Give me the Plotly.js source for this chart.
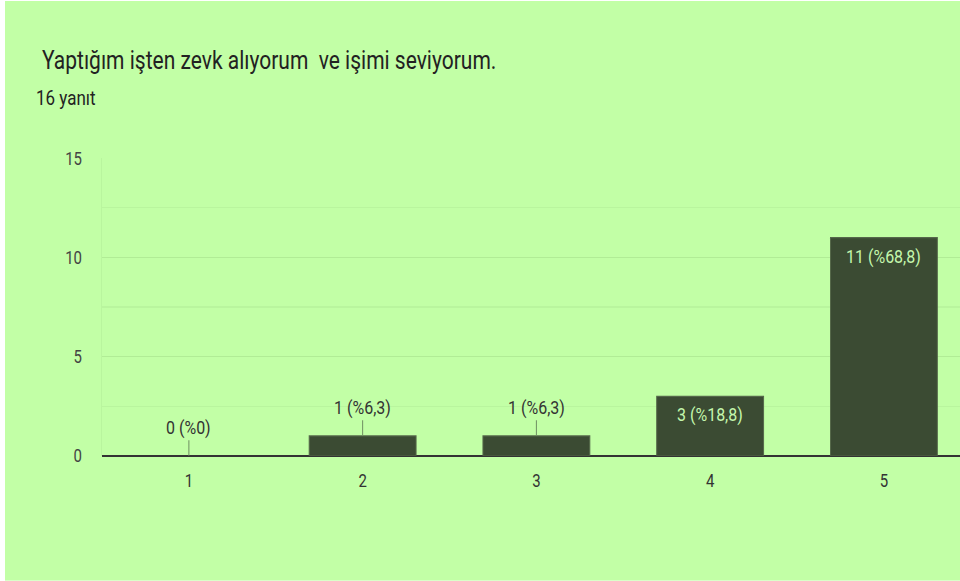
<!DOCTYPE html>
<html>
<head>
<meta charset="utf-8">
<script src="https://cdn.plot.ly/plotly-3.0.1.min.js"></script>
<style>
  html, body { margin: 0; padding: 0; background: #ffffff; width: 960px; height: 581px; overflow: hidden; }
  #chart { position: absolute; left: 5px; top: 1px; width: 955px; height: 483px;
           transform: scaleY(1.2); transform-origin: 0 0; }
</style>
</head>
<body>
<div id="chart"></div>
<script>
const categories = ['1', '2', '3', '4', '5'];
const counts = [0, 1, 1, 3, 11];
const labels = ['0 (%0)', '1 (%6,3)', '1 (%6,3)', '3 (%18,8)', '11 (%68,8)'];
const yTicks = [0, 5, 10, 15];
const titleText = 'Yaptığım işten zevk alıyorum  ve işimi seviyorum.';
const subtitleText = '16 yanıt';

const bg = '#c2ffa6';
const barColor = '#3b4b33';

const annotations = [];
categories.forEach((c, i) => {
  if (counts[i] >= 3) {
    annotations.push({
      x: i, y: counts[i], xref: 'x', yref: 'y',
      text: labels[i], showarrow: false, yanchor: 'top', yshift: -4,
      font: {family: 'Roboto', size: 16, color: '#c4f7ad'}
    });
  } else {
    annotations.push({
      x: i, y: counts[i], xref: 'x', yref: 'y',
      text: labels[i], showarrow: true, arrowhead: 0, arrowwidth: 1,
      arrowcolor: '#6f8f62', ax: 0, ay: -24, standoff: 0,
      font: {family: 'Roboto', size: 16, color: '#333333'}
    });
  }
});
annotations.push({
  text: subtitleText, xref: 'paper', yref: 'paper', x: -0.0795, y: 1.202,
  xanchor: 'left', yanchor: 'middle', showarrow: false,
  font: {family: 'Roboto', size: 17, color: '#222222'}
});

const data = [{
  type: 'bar',
  x: categories,
  y: counts,
  width: 0.615,
  marker: {color: barColor, line: {color: '#55684a', width: counts.map(v => v > 0 ? 1 : 0)}},
  hoverinfo: 'none'
}];

const layout = {
  width: 955, height: 483,
  paper_bgcolor: bg, plot_bgcolor: bg,
  margin: {l: 97, r: 0, t: 131, b: 104},
  showlegend: false,
  title: {
    text: titleText, xref: 'container', yref: 'container',
    x: 37 / 955, xanchor: 'left', y: 1 - 49 / 483, yanchor: 'middle',
    font: {family: 'Roboto', size: 21, color: '#222222'}
  },
  xaxis: {
    type: 'category', range: [-0.5, 4.438],
    showgrid: false, showline: false, zeroline: false,
    ticks: 'outside', ticklen: 7, tickcolor: 'rgba(0,0,0,0)',
    tickfont: {family: 'Roboto', size: 15, color: '#333333'},
    fixedrange: true
  },
  yaxis: {
    range: [0, 15], tickvals: yTicks, ticktext: yTicks.map(String),
    showgrid: true, gridcolor: '#b1ec96', gridwidth: 1,
    minor: {dtick: 2.5, tick0: 0, showgrid: true, gridcolor: '#b9f59e', gridwidth: 1},
    zeroline: true, zerolinecolor: '#333333', zerolinewidth: 2,
    showline: true, linecolor: '#b9f59e', linewidth: 1,
    ticks: 'outside', ticklen: 16, tickcolor: 'rgba(0,0,0,0)',
    tickfont: {family: 'Roboto', size: 15, color: '#444444'},
    fixedrange: true
  },
  annotations: annotations
};

Plotly.newPlot('chart', data, layout, {staticPlot: true, displayModeBar: false});
</script>
</body>
</html>
